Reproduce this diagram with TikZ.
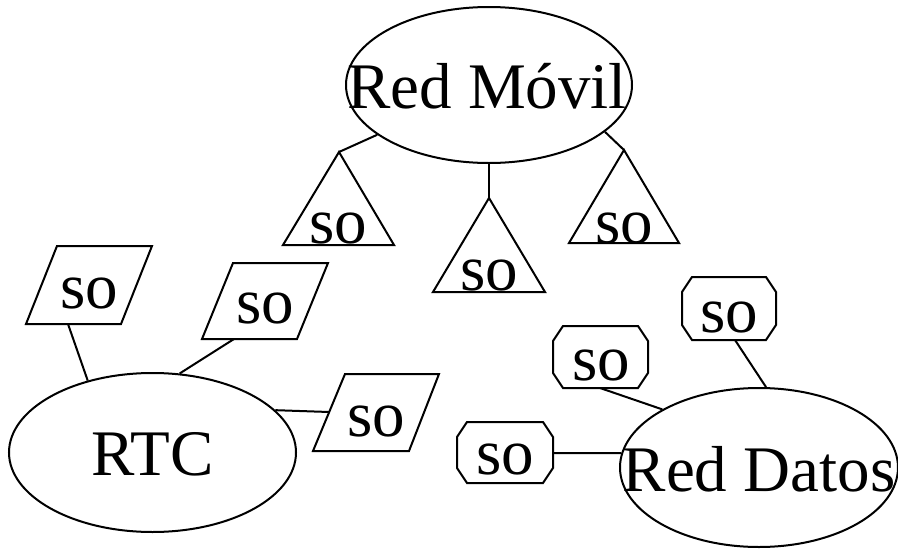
\documentclass[tikz,border=0pt]{standalone}
\usepackage{fontspec}
\setmainfont{Liberation Serif}
\usetikzlibrary{shapes.geometric}
\begin{document}
\begin{tikzpicture}[x=1pt,y=-1pt,line width=2pt,line join=miter,
  big/.style={font=\fontsize{65}{78}\selectfont,inner sep=0pt,anchor=base},
  sotext/.style={font=\fontsize{65}{78}\selectfont,inner sep=0pt,anchor=base},
  net/.style={draw,ellipse,inner sep=0pt}]
\useasboundingbox (0,0) rectangle (898,549);
% networks
\node[net,minimum width=286pt,minimum height=156pt] (rm) at (489,85) {};
\node[big] (rmt) at (487,108) {Red Móvil};
\node[net,minimum width=287pt,minimum height=159pt] (rtc) at (152.5,452.5) {};
\node[big] (rtct) at (152.5,475) {RTC};
\node[net,minimum width=278pt,minimum height=159pt] (rd) at (759,467.5) {};
\node[big] (rdt) at (759,491) {Red Datos};
% triangles
\coordinate (t1a) at (339,152);
\coordinate (t2a) at (489,198);
\coordinate (t3a) at (624,150);
\draw (t1a) -- (283,245) -- (394,245) -- cycle;
\draw (t2a) -- (433,292) -- (545,292) -- cycle;
\draw (t3a) -- (569,243) -- (679,243) -- cycle;
\node[sotext] (t1) at (338.5,243) {so};
\node[sotext] (t2) at (489,290) {so};
\node[sotext] (t3) at (624,243) {so};
\draw (rm.-156.6) -- (t1a);
\draw (rm.south) -- (t2a);
\draw (rm.-22) -- (t3a);
% parallelograms
\draw (57,246) -- (152,246) -- (121,324) -- (26,324) -- cycle;
\draw (233,263) -- (328,263) -- (297,339) -- (202,339) -- cycle;
\draw (345,374) -- (439,374) -- (409,451) -- (313,451) -- cycle;
\coordinate (p1c) at (68,324);
\coordinate (p2c) at (234,339);
\coordinate (p3c) at (329,412);
\node[sotext] (p1) at (89.5,308) {so};
\node[sotext] (p2) at (265,323) {so};
\node[sotext] (p3) at (376.5,436) {so};
\draw (p1c) -- (rtc.132.9);
\draw (p2c) -- (rtc.71.8);
\draw (p3c) -- (rtc.19.4);
% octagons
\draw (692,277) -- (766,277) -- (776,292) -- (776,325) -- (766,340) -- (692,340) -- (682,325) -- (682,292) -- cycle;
\draw (563,326) -- (638,326) -- (648,341) -- (648,373) -- (638,388) -- (563,388) -- (553,373) -- (553,341) -- cycle;
\draw (467,422) -- (543,422) -- (553,437) -- (553,468) -- (543,483) -- (467,483) -- (457,468) -- (457,437) -- cycle;
\coordinate (o1c) at (735,340);
\coordinate (o2c) at (600,388);
\coordinate (o3c) at (553,453);
\node[sotext] (o1) at (729,332) {so};
\node[sotext] (o2) at (601.5,380) {so};
\node[sotext] (o3) at (505,474) {so};
\draw (o1c) -- (rd.85.7);
\draw (o2c) -- (rd.149.1);
\draw (o3c) -- (rd.174);
\end{tikzpicture}
\end{document}
